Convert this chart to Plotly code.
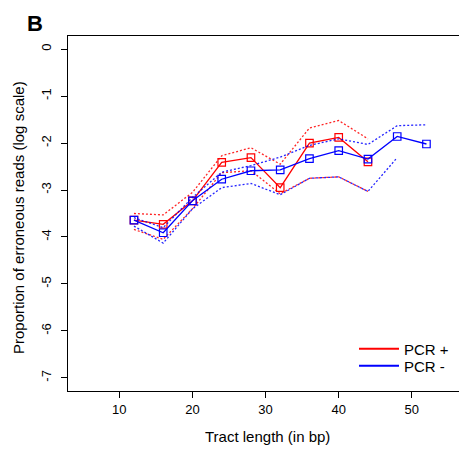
import plotly.graph_objects as go

x_red = [12, 16, 20, 24, 28, 32, 36, 40, 44]
red_mean = [-3.64, -3.73, -3.23, -2.41, -2.31, -2.95, -2.00, -1.88, -2.40]
red_upper = [-3.50, -3.53, -3.05, -2.27, -2.10, -2.45, -1.68, -1.52, -1.91]
red_lower = [-3.84, -4.05, -3.40, -2.63, -2.59, -3.08, -2.75, -2.72, -3.03]

x_blue = [12, 16, 20, 24, 28, 32, 36, 40, 44, 48, 52]
blue_mean = [-3.64, -3.91, -3.23, -2.77, -2.59, -2.57, -2.33, -2.16, -2.34, -1.86, -2.02]
blue_upper = [-3.59, -3.80, -3.16, -2.62, -2.48, -2.30, -2.05, -1.91, -2.03, -1.63, -1.61]
blue_lower = [-3.77, -4.13, -3.40, -2.95, -2.86, -3.10, -2.75, -2.72, -3.03, -2.31, None]

x_ticks = [10, 20, 30, 40, 50]
y_ticks = [0, -1, -2, -3, -4, -5, -6, -7]
y_ticktext = ["0", "-1", "-2", "-3", "-4", "-5", "-6", "-7"]

RED = "#FF0000"
BLUE = "#0000FF"
FONT = "Liberation Sans, Arial, sans-serif"

fig = go.Figure()

def add_band(x, y, color):
    fig.add_trace(go.Scatter(x=x, y=y, mode="lines", showlegend=False,
                             line=dict(color=color, width=1.3, dash="2px,2px"),
                             opacity=0.85, hoverinfo="skip"))

add_band(x_red, red_upper, RED)
add_band(x_red, red_lower, RED)
fig.add_trace(go.Scatter(x=x_red, y=red_mean, mode="lines+markers", showlegend=False,
                         line=dict(color=RED, width=1.3),
                         marker=dict(symbol="square-open", size=7.5, color=RED, line=dict(width=1.2))))
add_band(x_blue, blue_upper, BLUE)
add_band(x_blue, blue_lower, BLUE)
fig.add_trace(go.Scatter(x=x_blue, y=blue_mean, mode="lines+markers", showlegend=False,
                         line=dict(color=BLUE, width=1.3),
                         marker=dict(symbol="square-open", size=7.5, color=BLUE, line=dict(width=1.2))))

# legend entries
fig.add_trace(go.Scatter(x=[None], y=[None], mode="lines", name="PCR +",
                         line=dict(color=RED, width=2), legend="legend"))
fig.add_trace(go.Scatter(x=[None], y=[None], mode="lines", name="PCR -",
                         line=dict(color=BLUE, width=2), legend="legend2"))

def ypaper(py):
    return (391 - py) / 355

fig.update_layout(
    width=459, height=450,
    margin=dict(l=68, r=0, t=36, b=59),
    paper_bgcolor="white", plot_bgcolor="white",
    font=dict(family=FONT, size=13, color="black"),
    showlegend=True,
    legend=dict(x=(354 - 68) / 391, y=ypaper(349), xanchor="left", yanchor="middle",
                bgcolor="rgba(0,0,0,0)", font=dict(size=15), itemwidth=40),
    legend2=dict(x=(354 - 68) / 391, y=ypaper(366), xanchor="left", yanchor="middle",
                 bgcolor="rgba(0,0,0,0)", font=dict(size=15), itemwidth=40),
    xaxis=dict(range=[2.98, 56.45], tickvals=x_ticks, ticks="outside", ticklen=6,
               tickcolor="black", showline=True, linecolor="black", linewidth=1,
               mirror=True, showgrid=False, zeroline=False,
               tickfont=dict(size=13)),
    yaxis=dict(range=[-7.28, 0.28], tickvals=y_ticks, ticktext=y_ticktext,
               ticks="outside", ticklen=6, ticklabelstandoff=5,
               tickcolor="black", showline=True, linecolor="black", linewidth=1,
               mirror=True, showgrid=False, zeroline=False, tickangle=-90,
               tickfont=dict(size=13)),
    annotations=[
        dict(text="Tract length (in bp)", xref="paper", yref="paper",
             x=0.509, y=-0.129, xanchor="center", yanchor="middle",
             showarrow=False, font=dict(size=15)),
        dict(text="Proportion of erroneous reads (log scale)", xref="paper", yref="paper",
             x=-0.128, y=0.49, xanchor="center", yanchor="middle", textangle=-90,
             showarrow=False, font=dict(size=15)),
        dict(text="<b>B</b>", xref="paper", yref="paper",
             x=(35 - 68) / 391, y=(391 - 23) / 355, xanchor="center", yanchor="middle",
             showarrow=False, font=dict(size=22)),
    ],
)

fig.write_html("out.html")
